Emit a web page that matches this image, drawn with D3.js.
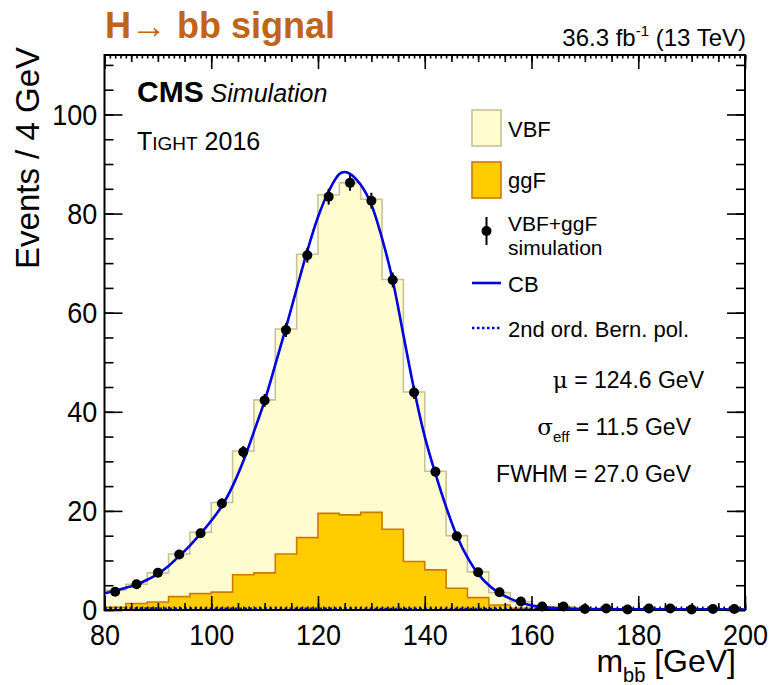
<!DOCTYPE html>
<html>
<head>
<meta charset="utf-8">
<script src="https://cdn.jsdelivr.net/npm/d3@7"></script>
<style>
  body { margin: 0; background: #fff; }
  svg text { font-family: "Liberation Sans", Arial, Helvetica, sans-serif; fill: #000; }
</style>
</head>
<body>
<svg id="chart" width="775" height="685"></svg>
<script>
// ---- data -------------------------------------------------------------
// 4 GeV bins of m_bb between 80 and 200 GeV (bin centres)
const binCenters = [82, 86, 90, 94, 98, 102, 106, 110, 114, 118, 122, 126, 130, 134, 138,
                    142, 146, 150, 154, 158, 162, 166, 170, 174, 178, 182, 186, 190, 194, 198];
const binWidth = 4;

// stacked templates
const ggF = [0.55, 1.3, 1.6, 2.7, 3.3, 3.6, 7.1, 7.5, 11.3, 14.6, 19.5, 19.2, 19.7, 16.3, 9.8,
             8.1, 4.4, 2.5, 1.0, 0.35, 0.15, 0.15, 0.05, 0.1, 0.05, 0.05, 0.1, 0.05, 0.05, 0.05];
const VBF = [3.45, 3.9, 5.9, 8.6, 12.4, 18.1, 25.0, 34.9, 45.4, 57.2, 64.3, 67.0, 63.2, 50.4, 34.2,
             19.9, 10.6, 5.2, 2.5, 1.35, 0.55, 0.55, 0.15, 0.2, 0.05, 0.25, 0.2, 0.05, 0.15, 0.15];

// VBF+ggF simulation points and their uncertainties
const simulation = [3.7, 5.2, 7.5, 11.2, 15.5, 21.5, 31.9, 42.3, 56.5, 71.6, 83.4, 86.2, 82.6, 66.6, 43.9,
                    27.9, 14.9, 7.6, 3.6, 1.7, 0.7, 0.7, 0.2, 0.3, 0.1, 0.3, 0.3, 0.1, 0.2, 0.2];
const simError = [0.5, 0.6, 0.7, 0.8, 0.9, 1.0, 1.2, 1.3, 1.4, 1.5, 1.6, 1.6, 1.6, 1.5, 1.3,
                  1.0, 0.8, 0.6, 0.4, 0.3, 0.2, 0.2, 0.1, 0.15, 0.1, 0.15, 0.15, 0.1, 0.1, 0.1];

// Crystal Ball fit, sampled along m_bb
const cbMass  = [80, 82, 84, 86, 88, 90, 92, 94, 96, 98, 100, 102, 104, 106, 108, 110, 112, 114, 116, 118,
                 120, 122, 124, 125, 126, 128, 130, 132, 134, 136, 138, 140, 142, 144, 146, 148, 150,
                 152, 154, 156, 158, 160, 162, 164, 166, 170, 180, 190, 200];
const cbValue = [3.4, 3.9, 4.5, 5.1, 6.1, 7.3, 8.9, 10.9, 13.0, 15.4, 18.0, 21.0, 25.0, 30.0, 36.0, 42.2, 49.5, 57.0, 64.8, 72.5,
                 79.3, 84.5, 88.0, 88.4, 88.0, 85.8, 81.8, 75.0, 66.5, 55.5, 44.5, 35.0, 27.5, 20.8, 15.0, 10.6, 7.3,
                 5.0, 3.4, 2.3, 1.5, 0.9, 0.6, 0.4, 0.3, 0.2, 0.15, 0.12, 0.1];

// 2nd order Bernstein polynomial component
const bernMass  = [80, 120, 160, 200];
const bernValue = [0.3, 0.25, 0.2, 0.15];

// axes
const xMajorTicks = [80, 100, 120, 140, 160, 180, 200];
const yMajorTicks = [0, 20, 40, 60, 80, 100];
const fitResults = [
  { sym: "μ", sub: "", text: " = 124.6 GeV" },
  { sym: "σ", sub: "eff", text: " = 11.5 GeV" },
  { sym: "", sub: "", text: "FWHM = 27.0 GeV" }
];

// ---- layout -------------------------------------------------------------
const svg = d3.select("#chart");
const frame = { left: 104.5, right: 745, top: 55, bottom: 610 };
const tickSX = 0.9; // narrow tick-label digits

const x = d3.scaleLinear().domain([80, 200]).range([frame.left, frame.right]);
const y = d3.scaleLinear().domain([0, 112]).range([frame.bottom, frame.top]);

svg.append("defs").append("clipPath").attr("id", "plotclip")
  .append("rect").attr("x", frame.left).attr("y", frame.top)
  .attr("width", frame.right - frame.left).attr("height", frame.bottom - frame.top);

function label(px, py, anchor, size) {
  return svg.append("text")
    .attr("x", px).attr("y", py)
    .attr("text-anchor", anchor)
    .style("font-size", size + "px");
}

// ---- stacked histograms ------------------------------------------------------
const rows = binCenters.map((c, i) => ({ c, ggF: ggF[i], VBF: VBF[i] }));
const layers = d3.stack().keys(["ggF", "VBF"])(rows);

function stepPoints(layer) {
  return layer.flatMap(d => [
    { m: d.data.c - binWidth / 2, lo: d[0], hi: d[1] },
    { m: d.data.c + binWidth / 2, lo: d[0], hi: d[1] }
  ]);
}
const areaGen = d3.area().x(d => x(d.m)).y0(d => y(d.lo)).y1(d => y(d.hi));
const outlineGen = d3.line().x(d => x(d.m)).y(d => y(d.v));

const styles = {
  VBF: { fill: "#fffcd0", stroke: "#c8c294" },
  ggF: { fill: "#ffcc00", stroke: "#cc7a00" }
};
const histG = svg.append("g").attr("clip-path", "url(#plotclip)");
// total (VBF on top of ggF) first, then ggF over it
const vbfLayer = layers.find(l => l.key === "VBF");
const ggfLayer = layers.find(l => l.key === "ggF");
histG.append("path").attr("d", areaGen(stepPoints(vbfLayer).map(p => ({ m: p.m, lo: 0, hi: p.hi }))))
  .attr("fill", styles.VBF.fill);
histG.append("path").attr("d", areaGen(stepPoints(ggfLayer)))
  .attr("fill", styles.ggF.fill);

function outline(layer, st) {
  const pts = stepPoints(layer).map(p => ({ m: p.m, v: p.hi }));
  pts.unshift({ m: 80, v: 0 });
  pts.push({ m: 200, v: 0 });
  histG.append("path").attr("d", outlineGen(pts))
    .attr("fill", "none").attr("stroke", st.stroke).attr("stroke-width", 1.6);
}
outline(vbfLayer, styles.VBF);
outline(ggfLayer, styles.ggF);

// Bernstein component (lies along the baseline)
svg.append("path")
  .attr("clip-path", "url(#plotclip)")
  .attr("d", d3.line().x((d, i) => x(bernMass[i])).y(d => y(d))(bernValue))
  .attr("fill", "none").attr("stroke", "#0000dd").attr("stroke-width", 2.4)
  .attr("stroke-dasharray", "2.5,2.5");

// ---- axes ------------------------------------------------------------------
const axisG = svg.append("g").attr("class", "axes");
const tickStyle = g => {
  g.select(".domain").remove();
  g.selectAll("line").attr("stroke", "#000").attr("stroke-width", 1.6);
};
const xSmall = d3.range(80, 201, 1);
const xMedium = d3.range(80, 201, 5);
const yMinor = d3.range(0, 112, 5);

// bottom
axisG.append("g").attr("transform", `translate(0,${frame.bottom})`)
  .call(d3.axisBottom(x).tickValues(xSmall).tickSize(-3.5).tickFormat("")).call(tickStyle);
axisG.append("g").attr("transform", `translate(0,${frame.bottom})`)
  .call(d3.axisBottom(x).tickValues(xMedium).tickSize(-7).tickFormat("")).call(tickStyle);
const xAx = axisG.append("g").attr("transform", `translate(0,${frame.bottom})`)
  .call(d3.axisBottom(x).tickValues(xMajorTicks).tickSize(-14).tickPadding(14).tickFormat(d3.format("d")))
  .call(tickStyle);
xAx.selectAll("text").style("font-size", "30px").attr("transform", `scale(${tickSX},1)`);

// top
axisG.append("g").attr("transform", `translate(0,${frame.top})`)
  .call(d3.axisTop(x).tickValues(xSmall).tickSize(-3.5).tickFormat("")).call(tickStyle);
axisG.append("g").attr("transform", `translate(0,${frame.top})`)
  .call(d3.axisTop(x).tickValues(xMedium).tickSize(-7).tickFormat("")).call(tickStyle);
axisG.append("g").attr("transform", `translate(0,${frame.top})`)
  .call(d3.axisTop(x).tickValues(xMajorTicks).tickSize(-14).tickFormat("")).call(tickStyle);

// left
axisG.append("g").attr("transform", `translate(${frame.left},0)`)
  .call(d3.axisLeft(y).tickValues(yMinor).tickSize(-9).tickFormat("")).call(tickStyle);
const yAx = axisG.append("g").attr("transform", `translate(${frame.left},0)`)
  .call(d3.axisLeft(y).tickValues(yMajorTicks).tickSize(-18).tickPadding(8).tickFormat(d3.format("d")))
  .call(tickStyle);
yAx.selectAll("text").style("font-size", "30px").attr("transform", `scale(${tickSX},1)`);

// right
axisG.append("g").attr("transform", `translate(${frame.right},0)`)
  .call(d3.axisRight(y).tickValues(yMinor).tickSize(-9).tickFormat("")).call(tickStyle);
axisG.append("g").attr("transform", `translate(${frame.right},0)`)
  .call(d3.axisRight(y).tickValues(yMajorTicks).tickSize(-18).tickFormat("")).call(tickStyle);

// frame
svg.append("rect").attr("x", frame.left).attr("y", frame.top)
  .attr("width", frame.right - frame.left).attr("height", frame.bottom - frame.top)
  .attr("fill", "none").attr("stroke", "#000").attr("stroke-width", 2);

// ---- CB fit -----------------------------------------------------------------
svg.append("path")
  .attr("clip-path", "url(#plotclip)")
  .attr("d", d3.line().curve(d3.curveCatmullRom).x((d, i) => x(cbMass[i])).y(d => y(d))(cbValue))
  .attr("fill", "none").attr("stroke", "#0000e0").attr("stroke-width", 2.6);

// ---- simulation points -------------------------------------------------------
const ptG = svg.append("g");
binCenters.forEach((c, i) => {
  ptG.append("line")
    .attr("x1", x(c)).attr("x2", x(c))
    .attr("y1", y(simulation[i] - simError[i])).attr("y2", y(simulation[i] + simError[i]))
    .attr("stroke", "#000").attr("stroke-width", 2);
  ptG.append("circle").attr("cx", x(c)).attr("cy", y(simulation[i])).attr("r", 5).attr("fill", "#000");
});

// ---- texts -------------------------------------------------------------------
label(105, 38, "start", 36).style("font-weight", "bold").style("fill", "#bf6418").text("H→ bb signal");

const lumi = label(746, 46, "end", 24);
lumi.append("tspan").text("36.3 fb");
lumi.append("tspan").attr("dy", -10).style("font-size", "15px").text("-1");
lumi.append("tspan").attr("dy", 10).text(" (13 TeV)");

const cms = label(137, 102, "start", 30);
cms.append("tspan").style("font-weight", "bold").text("CMS");
cms.append("tspan").style("font-style", "italic").style("font-size", "25px").text(" Simulation");

const tight = label(137, 150, "start", 25);
tight.append("tspan").text("T");
tight.append("tspan").style("font-size", "19px").text("IGHT");
tight.append("tspan").text(" 2016");

// axis titles
svg.append("text")
  .attr("transform", "translate(39,47) rotate(-90)")
  .attr("text-anchor", "end").style("font-size", "33px").text("Events / 4 GeV");

const xt = label(736, 672, "end", 32);
xt.append("tspan").text("m");
xt.append("tspan").attr("dy", 10).style("font-size", "20px").text("b");
xt.append("tspan").style("font-size", "20px").style("text-decoration", "overline").text("b");
xt.append("tspan").attr("dy", -10).text(" [GeV]");

// legend
const legX = 472, legW = 29, legText = 508;
const legend = svg.append("g");
legend.append("rect").attr("x", legX).attr("y", 110).attr("width", legW).attr("height", 36)
  .attr("fill", styles.VBF.fill).attr("stroke", styles.VBF.stroke).attr("stroke-width", 1.6);
label(legText, 137, "start", 22).text("VBF");
legend.append("rect").attr("x", legX).attr("y", 162).attr("width", legW).attr("height", 36)
  .attr("fill", styles.ggF.fill).attr("stroke", styles.ggF.stroke).attr("stroke-width", 1.6);
label(legText, 188, "start", 22).text("ggF");
legend.append("line").attr("x1", legX + legW / 2).attr("x2", legX + legW / 2)
  .attr("y1", 217).attr("y2", 245).attr("stroke", "#000").attr("stroke-width", 2);
legend.append("circle").attr("cx", legX + legW / 2).attr("cy", 231).attr("r", 5).attr("fill", "#000");
label(legText, 231, "start", 21).text("VBF+ggF");
label(legText, 255, "start", 21).text("simulation");
legend.append("line").attr("x1", legX).attr("x2", legX + legW).attr("y1", 283).attr("y2", 283)
  .attr("stroke", "#0000e0").attr("stroke-width", 2.6);
label(legText, 292, "start", 22).text("CB");
legend.append("line").attr("x1", legX).attr("x2", legX + legW).attr("y1", 328).attr("y2", 328)
  .attr("stroke", "#0000dd").attr("stroke-width", 2.4).attr("stroke-dasharray", "2.5,2.5");
label(legText, 337, "start", 22).text("2nd ord. Bern. pol.");

// fit results
const resultPos = [[704, 388], [691, 435], [691, 482]];
fitResults.forEach((r, i) => {
  const t = label(resultPos[i][0], resultPos[i][1], "end", 23);
  if (r.sym) t.append("tspan").style("font-family", "'DejaVu Serif', 'Liberation Serif', serif").text(r.sym);
  if (r.sub) {
    t.append("tspan").attr("dy", 7).style("font-size", "15px").text(r.sub);
    t.append("tspan").attr("dy", -7).text(r.text);
  } else {
    t.append("tspan").text(r.text);
  }
});
</script>
</body>
</html>
